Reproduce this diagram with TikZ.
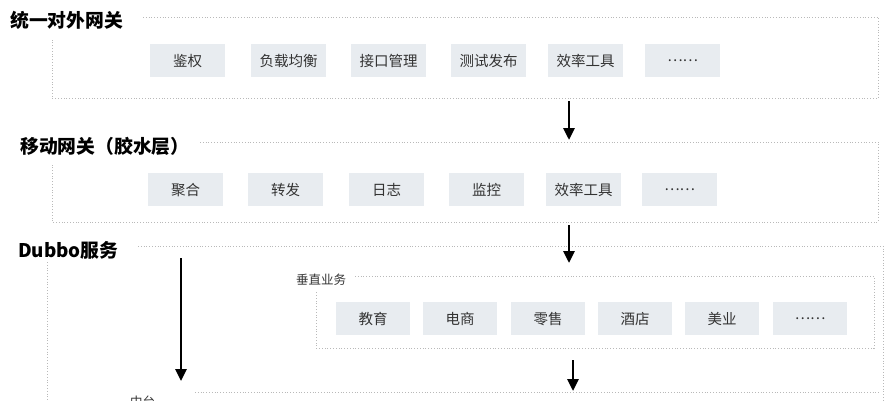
\documentclass[tikz,border=0pt]{standalone}
\usepackage{fontspec}
\setmainfont{Noto Sans CJK SC}
\usetikzlibrary{arrows.meta}
\begin{document}
\begin{tikzpicture}[x=1pt,y=-1pt,
  item/.style={fill=boxc,text=txt,minimum width=75pt,minimum height=33pt,inner sep=0pt,font=\fontsize{14.5}{16}\selectfont,anchor=north west},
  frame/.style={draw=gray!55,dotted,line width=0.8pt},
  title/.style={font=\bfseries\fontsize{18.8}{22}\selectfont,anchor=west,inner sep=0pt},
  flow/.style={-{Triangle[length=12pt,width=11pt]},line width=2.8pt}]
\definecolor{boxc}{HTML}{E8ECF0}
\definecolor{txt}{HTML}{333333}
\useasboundingbox (0,0) rectangle (891,400);
% frame 1
\node[title] (t1) at (10,20) {统一对外网关};
\draw[frame] (143,17)--(878,17)--(878,98)--(52,98)--(52,40);
\foreach \n/\x/\s in {a1/150/鉴权,a2/251/负载均衡,a3/351/接口管理,a4/451/测试发布,a5/548/效率工具,a6/645/……}
  \node[item] (\n) at (\x,44) {\s};
% frame 2
\node[title] (t2) at (20,146) {移动网关（胶水层）};
\draw[frame] (200,142)--(878,142)--(878,222)--(52,222)--(52,165);
\foreach \n/\x/\s in {b1/148/聚合,b2/248/转发,b3/349/日志,b4/449/监控,b5/546/效率工具,b6/642/……}
  \node[item] (\n) at (\x,173) {\s};
% Dubbo
\node[title] (t3) at (18,250) {Dubbo服务};
\draw[frame] (138,246)--(883,246)--(883,400);
\draw[frame] (47,262)--(47,400);
\node[anchor=west,inner sep=0pt,text=txt,font=\fontsize{12.5}{14}\selectfont] (t4) at (296,280) {垂直业务};
\draw[frame] (355,276)--(874,276)--(874,348)--(316,348)--(316,292);
\foreach \n/\x/\s in {c1/336/教育,c2/423/电商,c3/511/零售,c4/598/酒店,c5/685/美业,c6/773/……}
  \node[item,minimum width=74pt] (\n) at (\x,302) {\s};
\node[anchor=west,inner sep=0pt,text=txt,font=\fontsize{12.5}{14}\selectfont] (t5) at (130,402) {中台};
\draw[frame] (195,392)--(880,392);
% arrows
\coordinate (p1) at (569,101); \coordinate (q1) at (569,140);
\coordinate (p2) at (569,225); \coordinate (q2) at (569,263);
\coordinate (p3) at (181,258); \coordinate (q3) at (181,381);
\coordinate (p4) at (573,360); \coordinate (q4) at (573,391);
\draw[flow] (p1)--(q1);
\draw[flow] (p2)--(q2);
\draw[flow] (p3)--(q3);
\draw[flow] (p4)--(q4);
\end{tikzpicture}
\end{document}
